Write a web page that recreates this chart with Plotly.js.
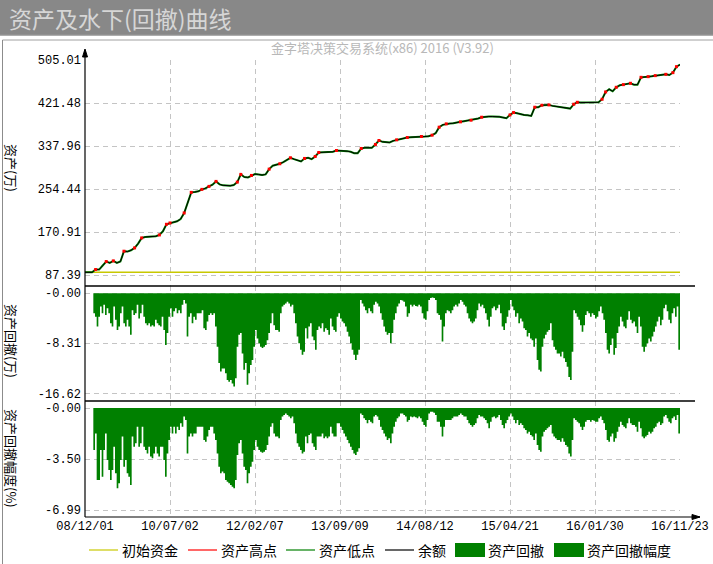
<!DOCTYPE html>
<html><head><meta charset="utf-8">
<script src="https://cdn.plot.ly/plotly-3.0.1.min.js"></script>
<style>html,body{margin:0;padding:0;background:#fff;}#chart{width:713px;height:564px;}</style>
</head><body><div id="chart"></div>
<script>
// ---------- data ----------
const tickDates = ['08/12/01','10/07/02','12/02/07','13/09/09','14/08/12','15/04/21','16/01/30','16/11/23'];
const tickIdx = [0,24,48,72,96,120,144,168];
const equityTicks = [87.39,170.91,254.44,337.96,421.48,505.01];
const equityTickText = ['87.39','170.91','254.44','337.96','421.48','505.01'];
const ddTicks = [0,-8.31,-16.62];
const ddTickText = ['-0.00','-8.31','-16.62'];
const pctTicks = [0,-3.50,-6.99];
const pctTickText = ['-0.00','-3.50','-6.99'];
const initialCapital = 92.6;

// 余额 (万), sampled along the bar index axis
const equity = [
92.6,92.6,92.6,98.0,98.0,105.8,113.5,111.0,114.8,111.0,
113.5,133.6,132.9,135.5,140.0,148.4,159.4,161.3,161.3,161.3,
162.6,165.2,172.3,185.9,188.5,189.8,191.7,196.2,207.9,226.0,
247.9,248.6,249.9,253.7,255.7,259.5,262.8,269.2,263.4,261.5,
260.8,260.8,262.1,267.9,282.8,277.6,277.0,280.8,283.4,282.8,
281.5,282.8,293.1,299.6,300.9,303.5,306.7,311.2,315.1,312.5,
309.9,308.0,313.8,315.1,312.5,317.7,325.4,325.4,325.4,325.4,
326.7,329.3,329.3,329.3,328.0,326.7,324.1,324.1,333.2,334.5,
334.5,334.5,341.0,348.7,346.1,345.5,344.8,348.0,350.0,351.9,
353.2,354.5,355.1,355.1,355.1,356.4,356.4,357.1,359.0,362.9,
374.5,379.1,381.0,381.6,382.3,382.9,384.9,386.2,387.4,388.1,
388.7,391.3,393.9,395.2,395.2,395.2,395.2,394.6,393.3,392.0,
398.4,402.9,401.7,399.7,398.4,397.8,396.5,413.3,413.3,417.2,
417.8,417.8,415.9,414.6,413.3,412.6,410.7,410.7,419.1,422.9,
422.3,422.3,422.3,422.3,422.3,422.9,428.8,443.0,448.2,444.3,
452.0,455.9,457.2,458.5,459.8,457.2,457.2,471.4,471.4,472.7,
473.4,474.7,475.9,476.6,477.2,475.9,480.5,492.1,496.0
];
// bars where a new high (资产高点) is marked
const highIdx = [3,6,8,11,14,16,21,23,24,28,30,33,35,37,43,44,47,52,55,58,62,65,66,71,78,82,83,88,91,95,98,100,102,106,109,112,120,121,127,129,131,138,139,146,147,150,152,154,157,159,161,164,166,167];

// 资产回撤 (万)
const drawdownAmt = [
0,0,0,0,-3.3,-3.9,-5.5,-3.9,-2.2,-3.3,
-1.9,-3.6,-2.5,-3.3,-5.0,-5.5,-2.2,-4.4,-6.1,-5.5,
-3.3,-2.2,-5.0,-5.5,-4.4,-5.5,-6.9,-2.8,-3.6,-3.3,
-1.9,-4.2,-3.3,-1.9,-3.9,-5.0,-5.3,-5.0,-5.5,-5.3,
-5.5,-4.4,-5.0,-5.3,-5.5,-3.9,-6.1,-8.6,-6.6,-3.9,
-2.5,-3.9,-3.0,-2.5,-3.3,-2.8,-3.3,-1.9,-1.1,-1.7,
-7.2,-3.9,-3.3,-5.0,-3.9,-4.4,-3.3,-3.3,-3.3,-2.8,
-5.8,-6.1,-4.7,-3.6,-3.3,-3.6,-3.3,-5.5,-8.9,-11.6,
-13.0,-12.5,-12.5,-13.3,-14.4,-14.7,-14.4,-15.0,-15.5,-14.1,
-8.9,-6.9,-6.6,-10.0,-12.7,-11.6,-15.2,-13.3,-11.9,-11.1,
-8.9,-6.1,-7.5,-8.3,-8.9,-9.1,-8.9,-8.6,-7.8,-6.6,
-5.0,-3.3,-5.3,-6.1,-6.1,-6.4,-3.3,-2.2,-1.9,-1.7,
-1.4,-1.7,-2.2,-1.9,-3.3,-5.0,-7.2,-8.3,-9.4,-10.2,
-9.7,-5.8,-7.5,-5.5,-5.0,-7.2,-7.8,-9.4,-6.1,-5.5,
-5.8,-5.0,-6.4,-5.8,-6.1,-6.9,-4.2,-5.5,-6.1,-6.4,
-3.9,-3.3,-4.2,-4.7,-5.0,-5.5,-6.4,-7.2,-8.3,-9.4,
-10.2,-11.1,-10.2,-9.4,-1.1,-1.7,-2.2,-2.8,-3.3,-2.5,
-3.0,-3.3,-1.9,-1.4,-1.7,-2.2,-3.3,-4.4,-5.5,-6.4,
-6.9,-6.6,-8.3,-6.6,-4.4,-3.3,-2.2,-1.7,
-1.1,-1.2,-1.4,-2.2,-3.9,-3.3,-1.9,-2.2,-1.9,-2.1,
-2.2,-1.9,-2.2,-3.3,-4.2,-4.4,-3.0,-1.1,-0.8,-0.7,
-0.8,-1.1,-3.3,-3.6,-4.4,-8.0,-5.5,-3.3,-2.8,-3.0,
-3.3,-2.8,-2.2,-1.9,-2.2,-1.7,-1.1,-1.4,-1.9,-2.2,
-3.3,-4.2,-4.7,-5.0,-4.7,-4.2,-2.8,-1.7,-2.2,-1.9,
-2.5,-3.3,-4.4,-5.5,-3.9,-2.5,-2.2,-2.8,-2.5,-1.9,
-3.3,-5.5,-6.1,-5.0,-3.9,-2.8,-1.1,-2.2,-2.8,-3.9,
-3.3,-5.0,-4.2,-4.7,-5.8,-6.1,-7.2,-6.6,-7.5,-7.8,
-8.9,-7.5,-11.1,-12.7,-13.0,-8.9,-7.5,-6.9,-6.4,-6.1,
-5.0,-7.8,-8.9,-9.4,-10.0,-10.0,-10.5,-9.7,-10.8,-11.4,
-12.2,-13.9,-14.4,-9.7,-2.8,-3.3,-3.9,-4.4,-5.3,-6.4,
-5.3,-3.6,-3.0,-3.3,-3.9,-3.3,-3.6,-4.2,-3.9,-3.0,
-2.2,-3.3,-4.4,-6.6,-9.4,-10.0,-8.6,-7.5,-10.2,-9.1,
-6.6,-5.5,-3.9,-4.7,-5.5,-5.8,-4.4,-3.0,-4.4,-5.0,
-4.7,-5.5,-6.6,-3.9,-5.5,-8.9,-9.7,-8.9,-8.3,-7.5,
-8.0,-7.2,-6.4,-5.5,-4.7,-3.9,-5.3,-4.4,-2.5,-1.9,
-3.0,-4.4,-5.0,-3.3,-2.5,-3.9,-2.2,-9.4,-9.1,-4.7
];
// 资产回撤幅度 (%)
const drawdownPct = [
0,0,0,0,-2.88,-1.74,-4.93,-4.93,-2.88,-4.71,
-2.88,-1.74,-3.56,-4.25,-4.93,-4.25,-2.65,-4.48,-5.50,-5.16,
-3.56,-1.96,-4.02,-3.56,-4.48,-4.71,-5.28,-1.96,-2.65,-2.42,
-1.28,-2.65,-2.42,-1.28,-2.65,-2.88,-3.11,-2.65,-3.33,-3.45,
-3.11,-2.65,-3.11,-3.33,-2.65,-2.65,-3.56,-4.71,-3.11,-2.19,
-1.28,-1.74,-1.28,-1.74,-1.28,-1.51,-1.05,-1.28,-0.59,-0.82,
-3.11,-1.96,-1.74,-1.96,-1.74,-1.74,-1.28,-1.28,-1.28,-1.28,
-2.19,-2.31,-1.96,-1.51,-1.28,-1.28,-1.74,-2.19,-3.11,-4.02,
-4.48,-4.36,-4.48,-4.93,-5.05,-5.16,-5.28,-5.39,-5.50,-4.93,
-3.22,-2.42,-2.19,-3.11,-4.02,-4.25,-5.16,-4.48,-4.02,-3.68,
-2.88,-2.19,-2.65,-2.88,-2.99,-3.06,-2.99,-2.88,-2.54,-1.96,
-1.28,-1.05,-1.74,-1.96,-1.96,-2.08,-0.82,-0.59,-0.48,-0.37,
-0.48,-0.59,-0.71,-0.59,-1.05,-1.74,-2.42,-2.65,-2.88,-3.11,
-2.99,-1.96,-2.42,-1.85,-1.74,-2.42,-2.65,-2.88,-1.96,-1.96,
-1.96,-1.74,-2.08,-1.96,-2.08,-1.96,-1.28,-1.74,-1.96,-1.96,
-1.05,-1.05,-1.28,-1.51,-1.74,-1.96,-2.19,-2.42,-2.65,-2.88,
-3.11,-3.22,-2.99,-2.76,-0.37,-0.48,-0.71,-0.82,-1.05,-0.82,
-0.94,-1.05,-0.59,-0.48,-0.59,-0.82,-1.28,-1.51,-1.74,-1.96,
-2.19,-2.08,-2.42,-1.74,-1.28,-0.94,-0.71,-0.59,
-0.37,-0.37,-0.48,-0.59,-0.94,-0.82,-0.59,-0.64,-0.59,-0.64,
-0.71,-0.59,-0.71,-0.94,-1.16,-1.28,-0.82,-0.37,-0.25,-0.25,
-0.32,-0.48,-0.94,-0.94,-1.28,-1.96,-1.28,-0.82,-0.82,-0.82,
-0.82,-0.71,-0.59,-0.59,-0.59,-0.48,-0.37,-0.48,-0.59,-0.59,
-0.82,-1.05,-1.16,-1.28,-1.16,-1.05,-0.71,-0.48,-0.59,-0.59,
-0.71,-0.82,-1.05,-1.39,-0.94,-0.64,-0.59,-0.71,-0.64,-0.48,
-0.82,-1.16,-1.39,-1.05,-0.82,-0.59,-0.37,-0.59,-0.82,-1.05,
-0.82,-1.16,-1.05,-1.16,-1.39,-1.51,-1.74,-1.62,-1.85,-1.96,
-2.19,-1.74,-2.54,-2.88,-2.99,-1.96,-1.62,-1.51,-1.39,-1.28,
-1.16,-1.74,-1.96,-2.08,-2.19,-2.19,-2.31,-2.08,-2.31,-2.54,
-2.65,-3.11,-3.33,-2.19,-0.71,-0.82,-0.94,-1.05,-1.28,-1.51,
-1.28,-0.94,-0.82,-0.82,-0.94,-0.82,-0.87,-0.94,-0.94,-0.71,
-0.59,-0.82,-1.05,-1.51,-2.19,-2.31,-1.96,-1.74,-2.31,-2.08,
-1.62,-1.28,-0.94,-1.16,-1.28,-1.39,-1.05,-0.71,-1.05,-1.16,
-1.16,-1.28,-1.62,-0.94,-1.39,-1.96,-2.08,-1.96,-1.85,-1.62,
-1.74,-1.62,-1.39,-1.28,-1.05,-0.94,-1.16,-1.05,-0.59,-0.48,
-0.71,-0.94,-1.05,-0.71,-0.59,-0.82,-0.48,-1.74,-1.74,-0.82
];
const legendNames = ['初始资金','资产高点','资产低点','余额','资产回撤','资产回撤幅度'];

// ---------- layout helpers ----------
const W = 713, H = 564, L = 85, R = 33, T = 60, B = 47;
const PW = W - L - R, PH = H - T - B;
const px = v => (v - L) / PW;          // page x -> paper x
const py = v => (H - B - v) / PH;      // page y -> paper y
const nBars = equity.length - 1;
const eqX = equity.map((_, i) => i);
const ddX = drawdownAmt.map((_, k) => (k + 1) * nBars / (drawdownAmt.length - 1));

const GREEN = '#008000';
const traces = [
  {x: [0, nBars], y: [initialCapital, initialCapital], mode: 'lines', line: {color: '#c8c800', width: 1.5}, name: legendNames[0], xaxis: 'x', yaxis: 'y'},
  {x: eqX, y: equity, mode: 'lines', line: {color: GREEN, width: 2.0}, name: legendNames[2], xaxis: 'x', yaxis: 'y'},
  {x: eqX, y: equity, mode: 'lines', line: {color: '#000000', width: 1.0}, name: legendNames[3], xaxis: 'x', yaxis: 'y'},
  {x: highIdx, y: highIdx.map(i => equity[i]), mode: 'markers', marker: {color: '#ff0000', symbol: 'square', size: 3, line: {width: 0}}, name: legendNames[1], xaxis: 'x', yaxis: 'y'},
  {x: ddX, y: drawdownAmt, mode: 'lines', line: {width: 0, shape: 'hv', color: GREEN}, fill: 'tozeroy', fillcolor: GREEN, name: legendNames[4], xaxis: 'x', yaxis: 'y2'},
  {x: ddX, y: drawdownPct, mode: 'lines', line: {width: 0, shape: 'hv', color: GREEN}, fill: 'tozeroy', fillcolor: GREEN, name: legendNames[5], xaxis: 'x', yaxis: 'y3'}
];

const tickFont = {family: 'Liberation Mono, DejaVu Sans Mono, monospace', size: 12, color: '#000'};
const cjk = 'Noto Sans CJK SC, sans-serif';
const gridCommon = {showgrid: true, gridcolor: '#c4c4c4', griddash: '5px,4px', gridwidth: 1, zeroline: false, showline: false, ticks: '', tickfont: tickFont, fixedrange: true};

const yAx = (dom, rng, tv, tt) => Object.assign({}, gridCommon, {domain: dom, range: rng, tickmode: 'array', tickvals: tv, ticktext: tt, anchor: 'x', ticklabelstandoff: 3});

const shapes = [];
const line = (x0, y0, x1, y1, color, width) => shapes.push({type: 'line', xref: 'paper', yref: 'paper', x0: x0, y0: y0, x1: x1, y1: y1, line: {color: color, width: width}});
// header bar & frame
shapes.push({type: 'rect', xref: 'paper', yref: 'paper', x0: px(0), x1: px(W), y0: py(34.5), y1: py(0), fillcolor: '#888888', line: {width: 0}, layer: 'below'});
line(px(0), py(35), px(W), py(35), '#5c5c5c', 1);
line(px(2.5), py(40), px(W), py(40), '#a0a0a0', 1);
line(px(2.5), py(40), px(2.5), py(H), '#8c8c8c', 1);
// axes with arrows
line(0, 0, 0, py(50), '#000', 1.2);
shapes.push({type: 'path', xref: 'paper', yref: 'paper', path: `M ${px(82.5)} ${py(57)} L ${px(85)} ${py(49)} L ${px(87.5)} ${py(57)} Z`, fillcolor: '#000', line: {color: '#000', width: 1}});
line(0, 0, px(700), 0, '#000', 1.2);
shapes.push({type: 'path', xref: 'paper', yref: 'paper', path: `M ${px(692)} ${py(514.5)} L ${px(700)} ${py(517)} L ${px(692)} ${py(519.5)} Z`, fillcolor: '#000', line: {color: '#000', width: 1}});
// panel separators
line(0, py(286), px(695), py(286), '#000', 1.5);
line(0, py(401), px(695), py(401), '#000', 1.5);

// custom legend
const legY = py(550);
const legendItems = [
  {kind: 'line', color: '#c8c800', x0: 89, tx: 120},
  {kind: 'line', color: '#ff0000', x0: 188, tx: 219},
  {kind: 'line', color: GREEN, x0: 286, tx: 317},
  {kind: 'line', color: '#000000', x0: 385, tx: 416},
  {kind: 'box', color: GREEN, x0: 455, tx: 486},
  {kind: 'box', color: GREEN, x0: 554, tx: 585}
];
const annotations = [];
legendItems.forEach((it, j) => {
  if (it.kind === 'line') line(px(it.x0), legY, px(it.x0 + 29), legY, it.color, 1.2);
  else shapes.push({type: 'rect', xref: 'paper', yref: 'paper', x0: px(it.x0), x1: px(it.x0 + 30), y0: py(557), y1: py(543), fillcolor: it.color, line: {width: 0}});
  annotations.push({xref: 'paper', yref: 'paper', x: px(it.tx), y: legY, xanchor: 'left', yanchor: 'middle', text: legendNames[j], showarrow: false, font: {family: cjk, size: 14, color: '#000'}});
});
// header title (annotation inside the grey bar)
annotations.push({xref: 'paper', yref: 'paper', x: px(7), y: py(18), xanchor: 'left', yanchor: 'middle', showarrow: false, text: '资产及水下(回撤)曲线', font: {family: cjk, size: 23, color: '#d6d6d6'}});
// subtitle
annotations.push({xref: 'paper', yref: 'paper', x: 0.5, y: py(48), xanchor: 'center', yanchor: 'middle', showarrow: false, text: '金字塔决策交易系统(x86) 2016 (V3.92)', font: {family: cjk, size: 13, color: '#b8b8b8'}});
// axis titles (rotated)
[['资产(万)', 168], ['资产回撤(万)', 341], ['资产回撤幅度(%)', 458]].forEach(([t, y]) => {
  annotations.push({xref: 'paper', yref: 'paper', x: px(12), y: py(y), xanchor: 'center', yanchor: 'middle', textangle: 90, showarrow: false, text: t, font: {family: cjk, size: 13, color: '#000'}});
});

const layout = {
  width: W, height: H,
  margin: {l: L, r: R, t: T, b: B, pad: 0},
  paper_bgcolor: '#ffffff', plot_bgcolor: '#ffffff',
  showlegend: false,
  xaxis: Object.assign({}, gridCommon, {domain: [0, 1], anchor: 'y3', range: [0, nBars], tickmode: 'array', tickvals: tickIdx, ticktext: tickDates}),
  yaxis: yAx([py(286), 1], [66.02, 505.05], equityTicks, equityTickText),
  yaxis2: yAx([py(401), py(286)], [-17.90, 1.21], ddTicks, ddTickText),
  yaxis3: yAx([0, py(401)], [-7.47, 0.48], pctTicks, pctTickText),
  shapes: shapes,
  annotations: annotations
};

Plotly.newPlot('chart', traces, layout, {staticPlot: true, displayModeBar: false});
</script>
</body></html>
